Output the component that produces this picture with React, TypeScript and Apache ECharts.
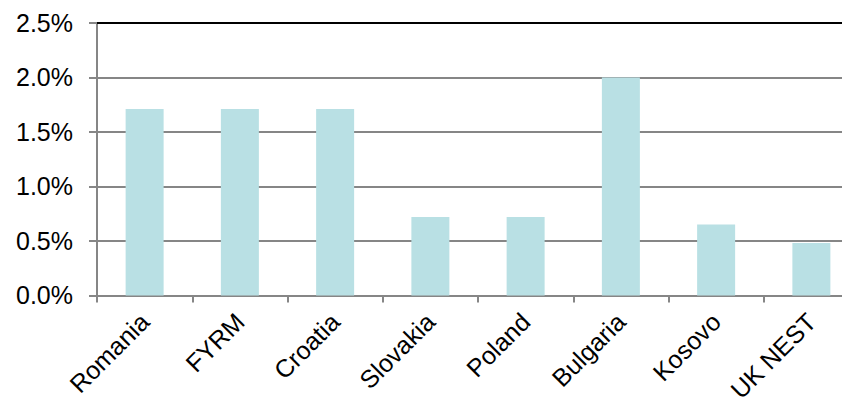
import React, { useEffect, useRef } from "react";
import * as echarts from "echarts";

const categories = ["Romania", "FYRM", "Croatia", "Slovakia", "Poland", "Bulgaria", "Kosovo", "UK NEST"];
const values = [1.71, 1.71, 1.71, 0.72, 0.72, 2.0, 0.65, 0.48];
const yTicks = { min: 0, max: 2.5, interval: 0.5 };

export default function App() {
  const ref = useRef<HTMLDivElement>(null);
  useEffect(() => {
    const chart = echarts.init(ref.current!, null, { renderer: "svg" });
    const font = "'Liberation Sans', Arial, sans-serif";
    chart.setOption({
      animation: false,
      grid: { left: 97, top: 23, width: 762, height: 273, containLabel: false },
      xAxis: [
        {
          type: "category",
          data: categories,
          axisLine: { lineStyle: { color: "#868686", width: 2 } },
          axisTick: { show: true, alignWithLabel: false, length: 7, lineStyle: { color: "#868686", width: 2 } },
          axisLabel: { rotate: 45, color: "#000", fontSize: 25, fontFamily: font, margin: 22 },
        },
        {
          type: "category",
          position: "top",
          data: categories,
          axisLine: { lineStyle: { color: "#000", width: 2 } },
          axisTick: { show: false },
          axisLabel: { show: false },
        },
      ],
      yAxis: {
        type: "value",
        min: yTicks.min,
        max: yTicks.max,
        interval: yTicks.interval,
        axisLine: { show: true, lineStyle: { color: "#868686", width: 2 } },
        axisTick: { show: true, length: 8, lineStyle: { color: "#868686", width: 2 } },
        splitLine: { lineStyle: { color: "#868686", width: 2 } },
        axisLabel: {
          color: "#000",
          fontSize: 25,
          fontFamily: font,
          margin: 24,
          formatter: (v: number) => v.toFixed(1) + "%",
        },
      },
      series: [
        {
          type: "bar",
          data: values,
          barWidth: 38,
          itemStyle: { color: "#b9e0e4" },
        },
      ],
    });
    return () => chart.dispose();
  }, []);
  return (
    <div style={{ width: 842, height: 405, position: "absolute", left: 0, top: 0, overflow: "hidden" }}>
      <div ref={ref} style={{ width: 880, height: 405 }} />
    </div>
  );
}
